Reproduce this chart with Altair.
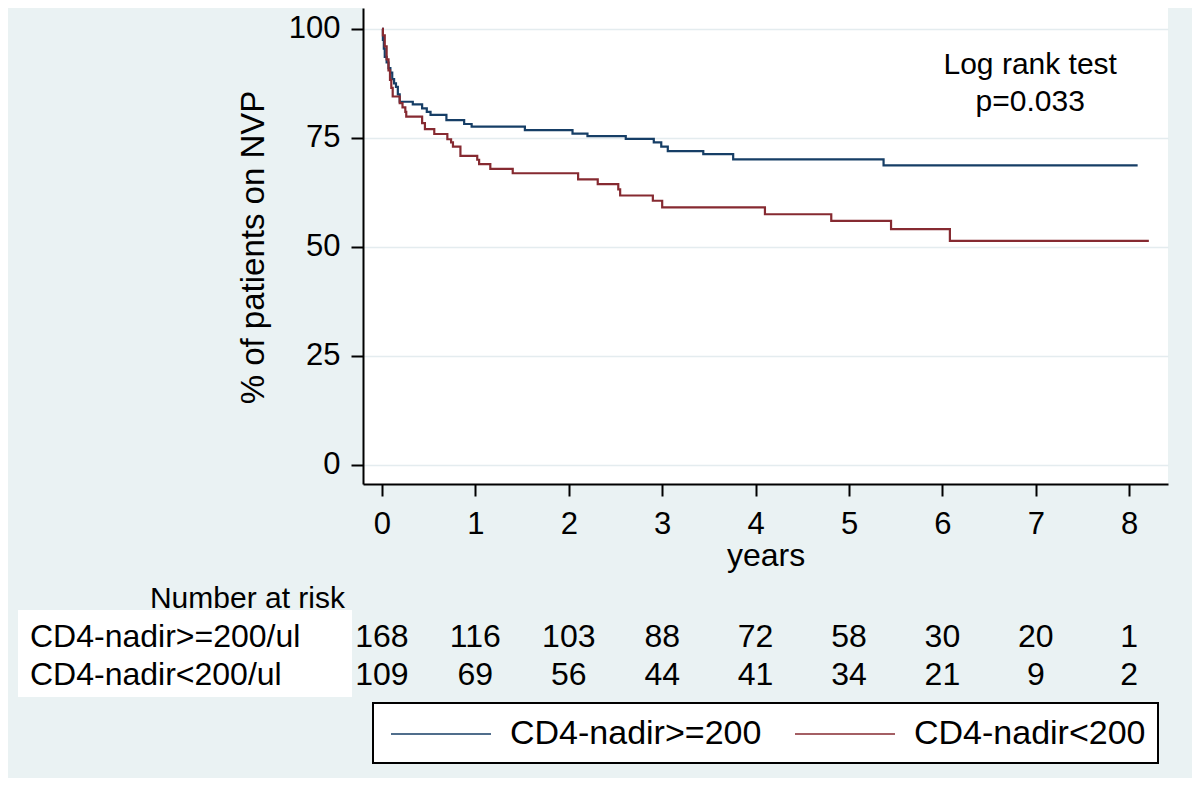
import altair as alt
import pandas as pd

FONT = "Liberation Sans"
NAVY = "#163e66"
MAROON = "#862a31"
BG = "#eaf2f3"
GRID = "#e4ecef"

groups = ["CD4-nadir>=200", "CD4-nadir<200"]

blue_years = [0, 0.01, 0.02, 0.03, 0.05, 0.07, 0.09, 0.11, 0.13, 0.15, 0.17, 0.19,
              0.33, 0.43, 0.48, 0.52, 0.69, 0.88, 0.96, 1.53, 2.04, 2.20, 2.61,
              2.91, 2.99, 3.06, 3.44, 3.76, 5.37, 8.09]
blue_pct = [100, 97.5, 95.5, 93.6, 92.3, 91.0, 90.0, 88.5, 87.5, 86.7, 85.0, 83.3,
            82.7, 81.8, 81.0, 80.3, 79.1, 78.2, 77.6, 76.8, 76.0, 75.4, 74.8,
            74.0, 73.0, 72.0, 71.3, 70.1, 68.7, 68.7]

red_years = [0, 0.01, 0.03, 0.05, 0.07, 0.086, 0.10, 0.115, 0.19, 0.22, 0.25, 0.26,
             0.43, 0.46, 0.56, 0.70, 0.74, 0.76, 0.84, 1.02, 1.04, 1.16, 1.40,
             2.10, 2.31, 2.53, 2.55, 2.90, 3.00, 4.10, 4.81, 5.45, 6.08, 8.21]
red_pct = [100, 98.5, 96.0, 93.0, 90.5, 88.3, 86.5, 84.5, 83.0, 82.0, 81.0, 79.9,
           78.4, 77.0, 75.9, 74.7, 74.0, 73.0, 70.9, 70.0, 69.0, 67.9, 66.9,
           65.5, 64.4, 63.2, 61.8, 60.6, 59.1, 57.5, 56.0, 54.1, 51.4, 51.4]

risk_years = [0, 1, 2, 3, 4, 5, 6, 7, 8]
risk_rows = ["CD4-nadir>=200/ul", "CD4-nadir<200/ul"]
risk_high = [168, 116, 103, 88, 72, 58, 30, 20, 1]
risk_low = [109, 69, 56, 44, 41, 34, 21, 9, 2]

test_text = ["Log rank test", "p=0.033"]
test_x = [6.94, 6.94]
test_y = [89.7, 81.2]

km = pd.DataFrame({
    "years": blue_years + red_years,
    "pct": blue_pct + red_pct,
    "group": [groups[0]] * len(blue_years) + [groups[1]] * len(red_years),
})
risk = pd.DataFrame({
    "years": risk_years + risk_years,
    "n": risk_high + risk_low,
    "row": [risk_rows[0]] * len(risk_years) + [risk_rows[1]] * len(risk_years),
})
labels_df = pd.DataFrame({"row": risk_rows})
test_df = pd.DataFrame({"x": test_x, "y": test_y, "t": test_text})
one = pd.DataFrame({"a": [0]})

x_scale = alt.Scale(domain=[-0.203, 8.415], nice=False, zero=False)
y_scale = alt.Scale(domain=[-4.36, 104.8], nice=False, zero=False)
row_scale = alt.Scale(type="point", domain=risk_rows, range=[639, 677], padding=0)

legend_box = alt.Chart(one).mark_rect(fill="white", stroke="black", strokeWidth=2).encode(
    x=alt.value(10), x2=alt.value(795), y=alt.value(695), y2=alt.value(755)
)
label_box = alt.Chart(one).mark_rect(fill="white").encode(
    x=alt.value(-345), x2=alt.value(-11), y=alt.value(602), y2=alt.value(689)
)

lines = alt.Chart(km).mark_line(interpolate="step-after", strokeWidth=2.2).encode(
    x=alt.X("years:Q", scale=x_scale, axis=alt.Axis(
        values=risk_years, format="d", title="years", grid=False,
        labelFont=FONT, labelFontSize=31, labelColor="black", labelPadding=13,
        labelFlush=False,
        titleFont=FONT, titleFontSize=32, titleColor="black", titleFontWeight="normal",
        titleY=81, titleBaseline="alphabetic",
        tickSize=12, tickWidth=2, tickColor="black",
        domainColor="black", domainWidth=2)),
    y=alt.Y("pct:Q", scale=y_scale, axis=alt.Axis(
        values=[0, 25, 50, 75, 100], title="% of patients on NVP",
        grid=True, gridColor=GRID, gridWidth=1.5,
        labelFont=FONT, labelFontSize=31, labelColor="black", labelPadding=11,
        labelFlush=False,
        titleFont=FONT, titleFontSize=33, titleColor="black", titleFontWeight="normal",
        titleX=-100, titleY=239, titleBaseline="alphabetic",
        tickSize=12, tickWidth=2, tickColor="black",
        domainColor="black", domainWidth=2)),
    color=alt.Color("group:N", scale=alt.Scale(domain=groups, range=[NAVY, MAROON]),
                    legend=alt.Legend(
                        orient="none", legendX=27, legendY=675, direction="horizontal",
                        title=None, symbolType="stroke", symbolSize=10000,
                        symbolStrokeWidth=1.5, labelFont=FONT, labelFontSize=34,
                        labelColor="black", labelOffset=18, columnPadding=30,
                        padding=0, labelLimit=500)),
)

test = alt.Chart(test_df).mark_text(font=FONT, fontSize=30, color="black",
                                    align="center", baseline="alphabetic").encode(
    x=alt.X("x:Q", scale=x_scale),
    y=alt.Y("y:Q", scale=y_scale, axis=None),
    text="t:N",
)

risk_text = alt.Chart(risk).mark_text(font=FONT, fontSize=32, color="black",
                                      align="center", baseline="alphabetic").encode(
    x=alt.X("years:Q", scale=x_scale),
    y=alt.Y("row:N", scale=row_scale, axis=None),
    text="n:Q",
)
row_labels = alt.Chart(labels_df).mark_text(font=FONT, fontSize=32, color="black",
                                            align="left", baseline="alphabetic").encode(
    x=alt.value(-333),
    y=alt.Y("row:N", scale=row_scale, axis=None),
    text="row:N",
)
risk_title = alt.Chart(one).mark_text(font=FONT, fontSize=30, color="black",
                                      align="right", baseline="alphabetic",
                                      text="Number at risk").encode(
    x=alt.value(-18), y=alt.value(600)
)

chart = alt.layer(
    legend_box, label_box, lines, test, risk_text, row_labels, risk_title
).resolve_scale(y="independent").properties(
    width=805, height=476,
    padding={"left": 355, "top": 0, "right": 24, "bottom": 294},
    autosize=alt.AutoSizeParams(type="none"),
    background=BG,
).configure_view(fill="white", stroke=None)

chart.save("out.html", embed_options={"renderer": "svg", "actions": False})
